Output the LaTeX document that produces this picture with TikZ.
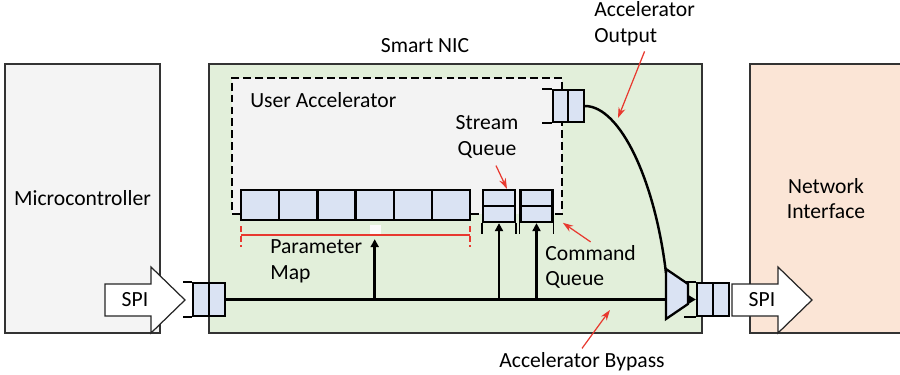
\documentclass[tikz,border=0pt]{standalone}
\usepackage{fontspec}
\setmainfont{Carlito}
\usetikzlibrary{positioning}
\usetikzlibrary{arrows.meta}

\definecolor{mcugray}{HTML}{F4F4F4}
\definecolor{nicgreen}{HTML}{E2EFDA}
\definecolor{netpeach}{HTML}{FBE5D6}
\definecolor{accgray}{HTML}{F3F3F3}
\definecolor{qblue}{HTML}{DAE3F3}
\definecolor{callred}{HTML}{E8392F}

\tikzset{
  unit/.style = {draw = black!80, line width = 0.8pt, inner sep = 0pt},
  cell/.style = {draw = black, fill = qblue, line width = 1.3pt, inner sep = 0pt},
  bus/.style = {line width = 1.4pt},
  upto/.style = {bus, -{Triangle[length = 4.5pt, width = 4.5pt]}},
  tick/.style = {line width = 0.8pt},
  spiarrow/.style = {draw = black!85, fill = white, line width = 0.7pt},
  callout/.style = {draw = callred, line width = 0.7pt, -{Stealth[length = 6pt, width = 4pt]}},
}

\begin{document}
\begin{tikzpicture}[x = 0.02cm, y = -0.02cm, font = \fontsize{12.3pt}{14.6pt}\selectfont]
\useasboundingbox (0, 0) rectangle (900, 375);

% outer blocks
\node [unit, fill = mcugray, minimum width = 3.1cm, minimum height = 5.38cm] (mcu) at (82.5, 198.5) {Microcontroller};
\node [unit, fill = nicgreen, minimum width = 9.86cm, minimum height = 5.38cm] (nic) at (455.5, 198.5) {};
\node [unit, fill = netpeach, minimum width = 3.04cm, minimum height = 5.38cm, align = center] (net) at (826, 198.5) {Network\\Interface};
\node (niclbl) at (425, 46) {Smart NIC};

% user accelerator
\node [draw, fill = accgray, line width = 0.9pt, dash pattern = on 4.5pt off 2.3pt, minimum width = 6.6cm, minimum height = 2.72cm, inner sep = 0pt] (acc) at (397, 146) {};
\node [anchor = west, inner sep = 0pt] (acclbl) at (250, 100) {User Accelerator};

% parameter map
\foreach \i in {0, ..., 5}
	\node [cell, minimum width = 0.764cm, minimum height = 0.6cm] (pm\i) at ({260.1 + 38.2 * \i}, 205) {};
\draw [callred, line width = 0.7pt] (241, 235) -- (470, 235);
\draw [callred, line width = 0.7pt, dash pattern = on 3.5pt off 2pt] (241, 226) -- (241, 247) (470, 226) -- (470, 247);
\fill [white!97!gray] (370, 225) rectangle (381, 234);
\node [anchor = west, align = left, inner sep = 0pt] (pmlbl) at (270, 261) {Parameter\\Map};

% stream and command queues
\node [cell, minimum width = 0.64cm, minimum height = 0.32cm] (sq1) at (499, 198) {};
\node [cell, minimum width = 0.64cm, minimum height = 0.32cm] (sq2) at (499, 214) {};
\node [cell, minimum width = 0.64cm, minimum height = 0.32cm] (cq1) at (536.5, 198) {};
\node [cell, minimum width = 0.64cm, minimum height = 0.32cm] (cq2) at (536.5, 214) {};
\foreach \q in {sq2, cq2} {
	\draw [tick] (\q.south west) -- ++(0, 11);
	\draw [tick] (\q.south east) -- ++(0, 11);
}
\node [align = center, inner sep = 0pt] (sqlbl) at (487, 137) {Stream\\Queue};
\node [anchor = west, align = left, inner sep = 0pt] (cqlbl) at (545, 267) {Command\\Queue};

% accelerator output queue
\node [cell, minimum width = 0.31cm, minimum height = 0.64cm] (aq1) at (560.5, 106) {};
\node [cell, minimum width = 0.31cm, minimum height = 0.64cm] (aq2) at (576, 106) {};
\draw [tick] (aq1.north west) -- ++(-10, 0);
\draw [tick] (aq1.south west) -- ++(-10, 0);
\node [anchor = west, align = left, inner sep = 0pt] (aolbl) at (594, 24) {Accelerator\\Output};

% input and output queues
\node [cell, minimum width = 0.32cm, minimum height = 0.66cm] (iq1) at (201, 299.5) {};
\node [cell, minimum width = 0.32cm, minimum height = 0.66cm] (iq2) at (217, 299.5) {};
\draw [tick] (iq1.north west) -- ++(-9, 0);
\draw [tick] (iq1.south west) -- ++(-9, 0);
\node [cell, minimum width = 0.32cm, minimum height = 0.66cm] (oq1) at (705, 299.5) {};
\node [cell, minimum width = 0.32cm, minimum height = 0.66cm] (oq2) at (721, 299.5) {};
\draw [tick] (oq1.north west) -- ++(-12, 0);
\draw [tick] (oq1.south west) -- ++(-12, 0);

% mux
\draw [cell] (666, 269) -- (688, 284) -- (688, 304) -- (666, 319) -- cycle;
\coordinate (muxin) at (666, 299.5);
\coordinate (muxtop) at (666, 273);
\coordinate (muxout) at (688, 299.5);

% buses
\draw [bus] (iq2.east) -- (muxin);
\draw [upto] (pm3.south |- iq2.east) -- ([yshift = -0.36cm]pm3.south);
\draw [upto] (sq2.south |- iq2.east) -- (sq2.south);
\draw [upto] (cq2.south |- iq2.east) -- (cq2.south);
\draw [bus] (aq2.east) .. controls (620, 106) and (655, 180) .. (muxtop);
\draw [bus, -{Triangle[length = 4pt, width = 4.5pt]}] (muxout) -- (oq1.west);

% spi links
\draw [spiarrow] (105, 284) -- (151, 284) -- (151, 267) -- (185, 300) -- (151, 333) -- (151, 316) -- (105, 316) -- cycle;
\node (spiin) at (135, 300) {SPI};
\draw [spiarrow] (732, 284) -- (778, 284) -- (778, 267) -- (812, 300) -- (778, 333) -- (778, 316) -- (732, 316) -- cycle;
\node (spiout) at (762, 300) {SPI};

% callouts
\node [inner sep = 0pt] (bplbl) at (582, 362) {Accelerator Bypass};
\coordinate (bptip) at (610, 310);
\coordinate (aotip) at (618, 118);
\draw [callout] ([yshift = -0.1cm]aolbl.south) -- (aotip);
\draw [callout] ([xshift = 0.18cm, yshift = -0.14cm]sqlbl.south) -- ([xshift = 0.16cm]sq1.north);
\draw [callout] ([yshift = 0.06cm]cqlbl.north) -- ([yshift = -0.16cm]acc.south east);
\draw [callout] ([yshift = 0.08cm]bplbl.north) -- (bptip);
\end{tikzpicture}
\end{document}
